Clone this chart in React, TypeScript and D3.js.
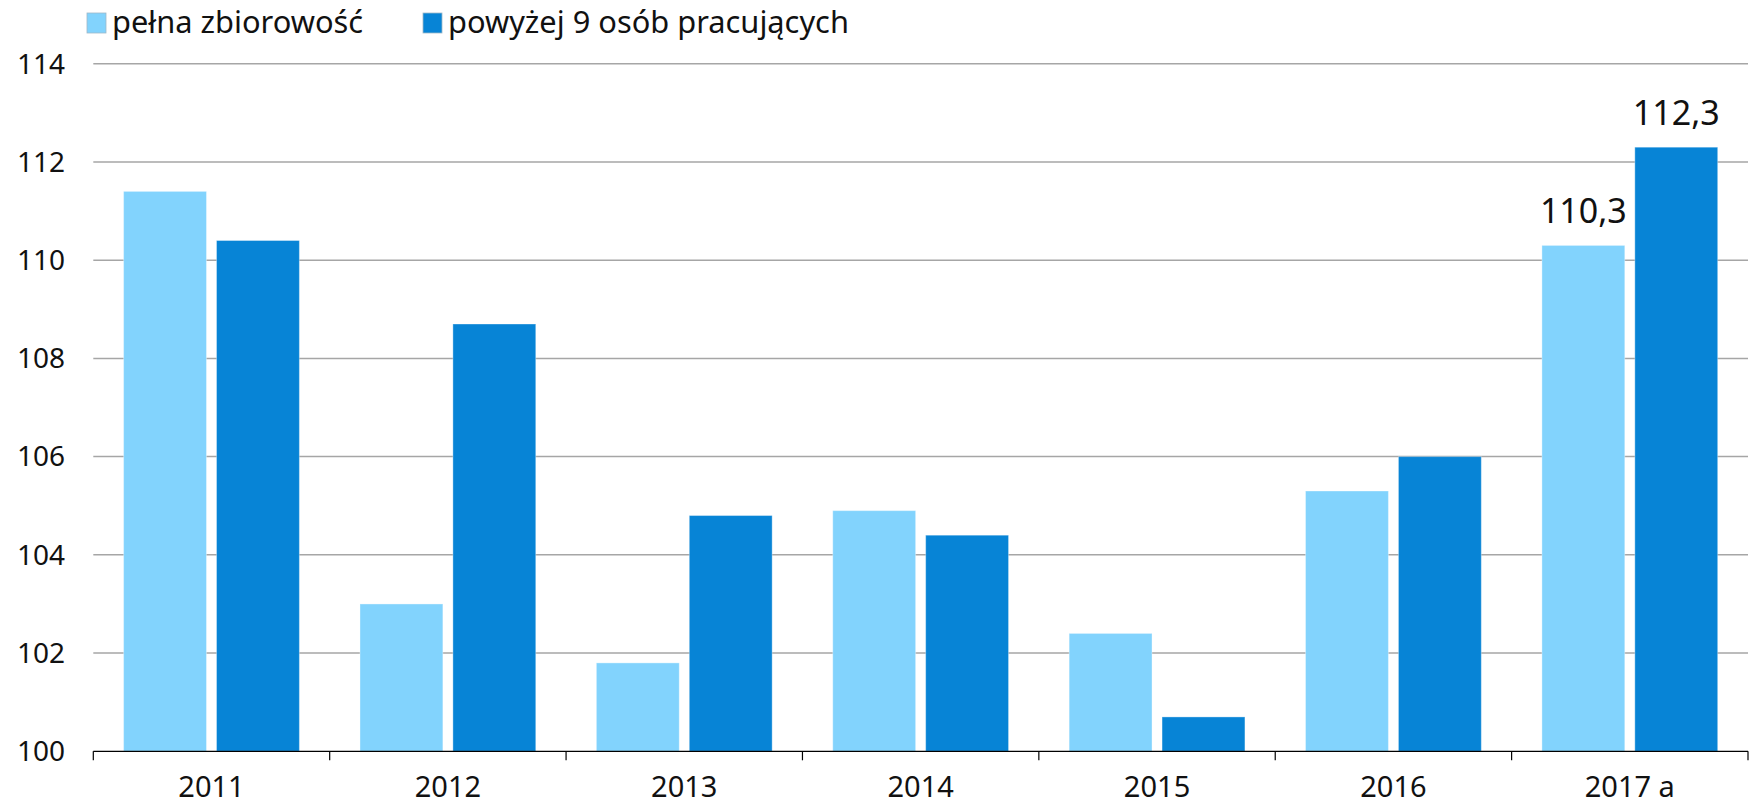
import React, { useEffect, useRef } from "react";
import * as d3 from "d3";

// data
const years = ["2011", "2012", "2013", "2014", "2015", "2016", "2017 a"];
const pelnaZbiorowosc = [111.4, 103.0, 101.8, 104.9, 102.4, 105.3, 110.3];
const powyzej9 = [110.4, 108.7, 104.8, 104.4, 100.7, 106.0, 112.3];
const seriesNames = ["pełna zbiorowość", "powyżej 9 osób pracujących"];
const yTicks = [100, 102, 104, 106, 108, 110, 112, 114];
const labelledYears = ["2017 a"]; // tylko ostatni rok ma etykiety wartości

const colors = ["#82D3FD", "#0784D6"];

const App = () => {
  const svgRef = useRef<SVGSVGElement | null>(null);

  useEffect(() => {
    const width = 1758;
    const height = 804;
    const marginTop = 63.7;
    const marginLeft = 93.3;
    const marginRight = 10;
    const plotBottom = 751.3;
    const font = "'Noto Sans', sans-serif";

    const data = years.map((year, i) => ({
      year,
      values: [pelnaZbiorowosc[i], powyzej9[i]],
    }));

    const x0 = d3
      .scaleBand<string>()
      .domain(years)
      .range([marginLeft, width - marginRight])
      .padding(0);

    const x1 = d3
      .scaleBand<number>()
      .domain([0, 1])
      .range([30.3, x0.bandwidth() - 30.3])
      .paddingInner(0.108)
      .paddingOuter(0);

    const y = d3
      .scaleLinear()
      .domain([100, 114])
      .range([plotBottom, marginTop]);

    const svg = d3
      .select(svgRef.current)
      .attr("width", width)
      .attr("height", height)
      .attr("viewBox", [0, 0, width, height].join(" "))
      .style("position", "absolute")
      .style("left", "0px")
      .style("top", "0px")
      .style("background", "#fff");

    svg.selectAll("*").remove();

    // linie siatki
    svg
      .append("g")
      .selectAll("line")
      .data(yTicks.filter((d) => d > 100))
      .join("line")
      .attr("x1", marginLeft)
      .attr("x2", width - marginRight)
      .attr("y1", (d) => y(d))
      .attr("y2", (d) => y(d))
      .attr("stroke", "#a6a6a6")
      .attr("stroke-width", 1.5);

    // etykiety osi Y
    svg
      .append("g")
      .selectAll("text")
      .data(yTicks)
      .join("text")
      .attr("x", 65)
      .attr("y", (d) => y(d))
      .attr("dy", "0.35em")
      .attr("text-anchor", "end")
      .attr("font-family", font)
      .attr("font-size", 28)
      .attr("fill", "#111")
      .text((d) => String(d));

    // słupki
    svg
      .append("g")
      .selectAll("g")
      .data(data)
      .join("g")
      .attr("transform", (d) => `translate(${x0(d.year)},0)`)
      .selectAll("rect")
      .data((d) => d.values.map((v, k) => ({ k, v })))
      .join("rect")
      .attr("x", (d) => x1(d.k)!)
      .attr("y", (d) => y(d.v))
      .attr("width", x1.bandwidth())
      .attr("height", (d) => y(100) - y(d.v))
      .attr("fill", (d) => colors[d.k])
      .attr("stroke", "#ffffff")
      .attr("stroke-opacity", 0.35)
      .attr("stroke-width", 1);

    // oś X
    const xAxis = svg
      .append("g")
      .attr("transform", `translate(0,${plotBottom})`)
      .call(
        d3
          .axisBottom(x0)
          .tickSize(0)
          .tickPadding(25)
      );
    xAxis.select(".domain").remove();
    xAxis
      .selectAll("text")
      .attr("font-family", font)
      .attr("font-size", 29)
      .attr("fill", "#111");

    svg
      .append("line")
      .attr("x1", marginLeft)
      .attr("x2", width - marginRight)
      .attr("y1", plotBottom)
      .attr("y2", plotBottom)
      .attr("stroke", "#000")
      .attr("stroke-width", 1.2);

    const boundaries = years.map((d) => x0(d)!).concat([width - marginRight]);
    svg
      .append("g")
      .selectAll("line")
      .data(boundaries)
      .join("line")
      .attr("x1", (d) => d)
      .attr("x2", (d) => d)
      .attr("y1", plotBottom)
      .attr("y2", plotBottom + 9)
      .attr("stroke", "#000")
      .attr("stroke-width", 1.2);

    // etykiety wartości
    const fmt = (v: number) => v.toFixed(1).replace(".", ",");
    svg
      .append("g")
      .selectAll("g")
      .data(data.filter((d) => labelledYears.includes(d.year)))
      .join("g")
      .attr("transform", (d) => `translate(${x0(d.year)},0)`)
      .selectAll("text")
      .data((d) => d.values.map((v, k) => ({ k, v })))
      .join("text")
      .attr("x", (d) => x1(d.k)! + x1.bandwidth() / 2)
      .attr("y", (d) => y(d.v) - 22)
      .attr("text-anchor", "middle")
      .attr("font-family", font)
      .attr("font-size", 34)
      .attr("fill", "#111")
      .text((d) => fmt(d.v));

    // legenda
    const legendX = [87, 423];
    const legend = svg
      .append("g")
      .selectAll("g")
      .data(seriesNames)
      .join("g")
      .attr("transform", (_, i) => `translate(${legendX[i]},13)`);
    legend
      .append("rect")
      .attr("width", 19)
      .attr("height", 20)
      .attr("fill", (_, i) => colors[i])
      .attr("stroke", "#9fb8c8")
      .attr("stroke-width", 0.8);
    legend
      .append("text")
      .attr("x", 25)
      .attr("y", 20)
      .attr("font-family", font)
      .attr("font-size", 30.8)
      .attr("fill", "#111")
      .text((d) => d);
  }, []);

  return <svg ref={svgRef} />;
};

export default App;
